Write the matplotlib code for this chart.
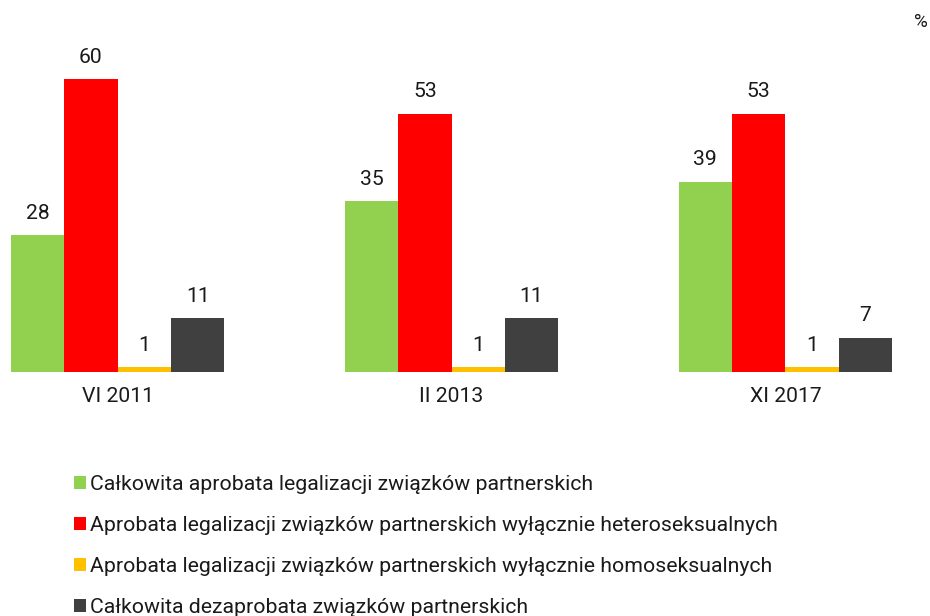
import matplotlib.pyplot as plt
from matplotlib.patches import Patch
import numpy as np

plt.rcParams['font.family'] = ['Roboto', 'DejaVu Sans']

# dane
okresy = ["VI 2011", "II 2013", "XI 2017"]
serie = [
    "Całkowita aprobata legalizacji związków partnerskich",
    "Aprobata legalizacji związków partnerskich wyłącznie heteroseksualnych",
    "Aprobata legalizacji związków partnerskich wyłącznie homoseksualnych",
    "Całkowita dezaprobata związków partnerskich",
]
calkowita_aprobata = [28, 35, 39]
tylko_hetero = [60, 53, 53]
tylko_homo = [1, 1, 1]
dezaprobata = [11, 11, 7]
kolory = ["#92D050", "#FF0000", "#FFC000", "#404040"]

wartosci = [calkowita_aprobata, tylko_hetero, tylko_homo, dezaprobata]

fig = plt.figure(figsize=(9.3, 6.16), dpi=100)
W, H = 930, 616
# osie: od x=10 do 893 px, podstawa y=372 px
ax = fig.add_axes([10 / W, (616 - 372) / H, 883 / W, (372 - 55) / H])

x = np.arange(len(okresy))
szer = 0.16
for i, (vals, kol) in enumerate(zip(wartosci, kolory)):
    poz = x + (i - 1.5) * szer
    bars = ax.bar(poz, vals, width=szer, color=kol, label=serie[i])
    ax.bar_label(bars, padding=9, fontsize=15.2, color="#1a1a1a")

ax.set_xlim(-2 * szer - 0.0025, 2 + 2 * szer + 0.0025)
ax.set_ylim(0, 65)
ax.set_xticks(x)
ax.set_xticklabels(okresy, fontsize=15.2, color="#1a1a1a")
ax.tick_params(axis="x", length=0, pad=11)
ax.set_yticks([])
for s in ax.spines.values():
    s.set_visible(False)

fig.text(921 / W, 1 - 22 / H, "%", fontsize=13.5, ha="center", va="center", color="#1a1a1a")

uchwyty = [Patch(facecolor=k, edgecolor="none") for k in kolory]
fig.legend(uchwyty, serie, loc="upper left", bbox_to_anchor=(74 / W, 1 - 475 / H),
           frameon=False, fontsize=15.3, handlelength=0.57, handleheight=0.57,
           handletextpad=0.2, labelspacing=1.04, borderaxespad=0, borderpad=0,
           labelcolor="#1a1a1a")

fig.savefig("out.png", dpi=100)
